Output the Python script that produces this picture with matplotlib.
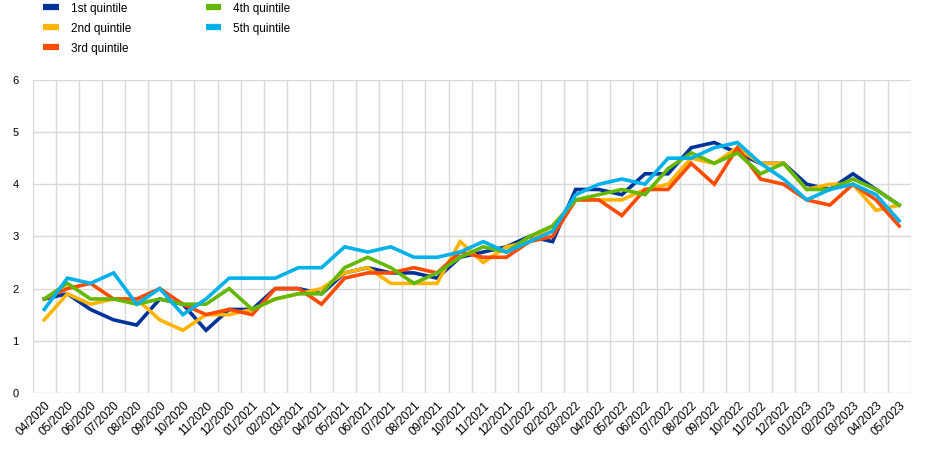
import matplotlib.pyplot as plt
import numpy as np

plt.rcParams['font.family'] = ['Liberation Sans', 'DejaVu Sans']

months = ["04/2020", "05/2020", "06/2020", "07/2020", "08/2020", "09/2020", "10/2020",
          "11/2020", "12/2020", "01/2021", "02/2021", "03/2021", "04/2021", "05/2021",
          "06/2021", "07/2021", "08/2021", "09/2021", "10/2021", "11/2021", "12/2021",
          "01/2022", "02/2022", "03/2022", "04/2022", "05/2022", "06/2022", "07/2022",
          "08/2022", "09/2022", "10/2022", "11/2022", "12/2022", "01/2023", "02/2023",
          "03/2023", "04/2023", "05/2023"]

q1 = [1.8, 1.9, 1.6, 1.4, 1.3, 1.8, 1.7, 1.2, 1.6, 1.6, 2.0, 2.0, 1.9, 2.3, 2.4, 2.3, 2.3, 2.2, 2.6,
      2.7, 2.8, 3.0, 2.9, 3.9, 3.9, 3.8, 4.2, 4.2, 4.7, 4.8, 4.6, 4.4, 4.4, 4.0, 3.9, 4.2, 3.9, 3.6]
q2 = [1.4, 1.9, 1.7, 1.8, 1.8, 1.4, 1.2, 1.5, 1.5, 1.6, 1.8, 1.9, 2.0, 2.3, 2.4, 2.1, 2.1, 2.1, 2.9,
      2.5, 2.8, 2.9, 3.2, 3.7, 3.7, 3.7, 3.9, 4.0, 4.5, 4.4, 4.7, 4.4, 4.4, 3.9, 4.0, 4.0, 3.5, 3.6]
q3 = [1.8, 2.0, 2.1, 1.8, 1.8, 2.0, 1.7, 1.5, 1.6, 1.5, 2.0, 2.0, 1.7, 2.2, 2.3, 2.3, 2.4, 2.3, 2.7,
      2.6, 2.6, 2.9, 3.0, 3.7, 3.7, 3.4, 3.9, 3.9, 4.4, 4.0, 4.7, 4.1, 4.0, 3.7, 3.6, 4.0, 3.7, 3.2]
q4 = [1.8, 2.1, 1.8, 1.8, 1.7, 1.8, 1.7, 1.7, 2.0, 1.6, 1.8, 1.9, 1.9, 2.4, 2.6, 2.4, 2.1, 2.3, 2.6,
      2.8, 2.7, 3.0, 3.2, 3.7, 3.8, 3.9, 3.8, 4.3, 4.6, 4.4, 4.6, 4.2, 4.4, 3.9, 3.9, 4.1, 3.9, 3.6]
q5 = [1.6, 2.2, 2.1, 2.3, 1.7, 2.0, 1.5, 1.8, 2.2, 2.2, 2.2, 2.4, 2.4, 2.8, 2.7, 2.8, 2.6, 2.6, 2.7,
      2.9, 2.7, 2.9, 3.1, 3.8, 4.0, 4.1, 4.0, 4.5, 4.5, 4.7, 4.8, 4.4, 4.1, 3.7, 3.9, 4.0, 3.8, 3.3]

labels = ["1st quintile", "2nd quintile", "3rd quintile", "4th quintile", "5th quintile"]
colors = ["#003299", "#FFB400", "#FF4B00", "#65B800", "#00B1EA"]

fig = plt.figure(figsize=(9.35, 4.49), dpi=100)
ax = fig.add_axes([0.035, 0.125, 0.939, 0.697])

x = np.arange(len(months))
for vals, lab, col in zip([q1, q2, q3, q4, q5], labels, colors):
    ax.plot(x, vals, color=col, lw=2.6, label=lab, solid_joinstyle='miter')

ax.set_xlim(-0.5, len(months) - 0.5)
ax.set_ylim(0, 6)
ax.set_yticks(range(7))
ax.set_xticks(x)
ax.set_xticklabels(months, rotation=45, ha='right', rotation_mode='anchor', fontsize=8.5)
ax.set_xticks(np.arange(-0.5, len(months)), minor=True)
ax.tick_params(axis='y', labelsize=8, length=0, pad=10)
ax.tick_params(axis='x', which='both', length=0, pad=5)
ax.grid(axis='y', color='#d9d9d9', lw=1)
ax.grid(axis='x', which='minor', color='#d9d9d9', lw=1)
ax.set_axisbelow(True)
for s in ax.spines.values():
    s.set_visible(False)

leg = fig.legend(loc='upper left', bbox_to_anchor=(0.035, 1.018), ncol=2, frameon=False,
                 fontsize=8.5, handlelength=1.3, handletextpad=1.05, columnspacing=6.3,
                 labelspacing=0.68)
for h in leg.legend_handles:
    h.set_linewidth(4.5)
    h.set_solid_capstyle('butt')

fig.savefig("out.png", dpi=100)
